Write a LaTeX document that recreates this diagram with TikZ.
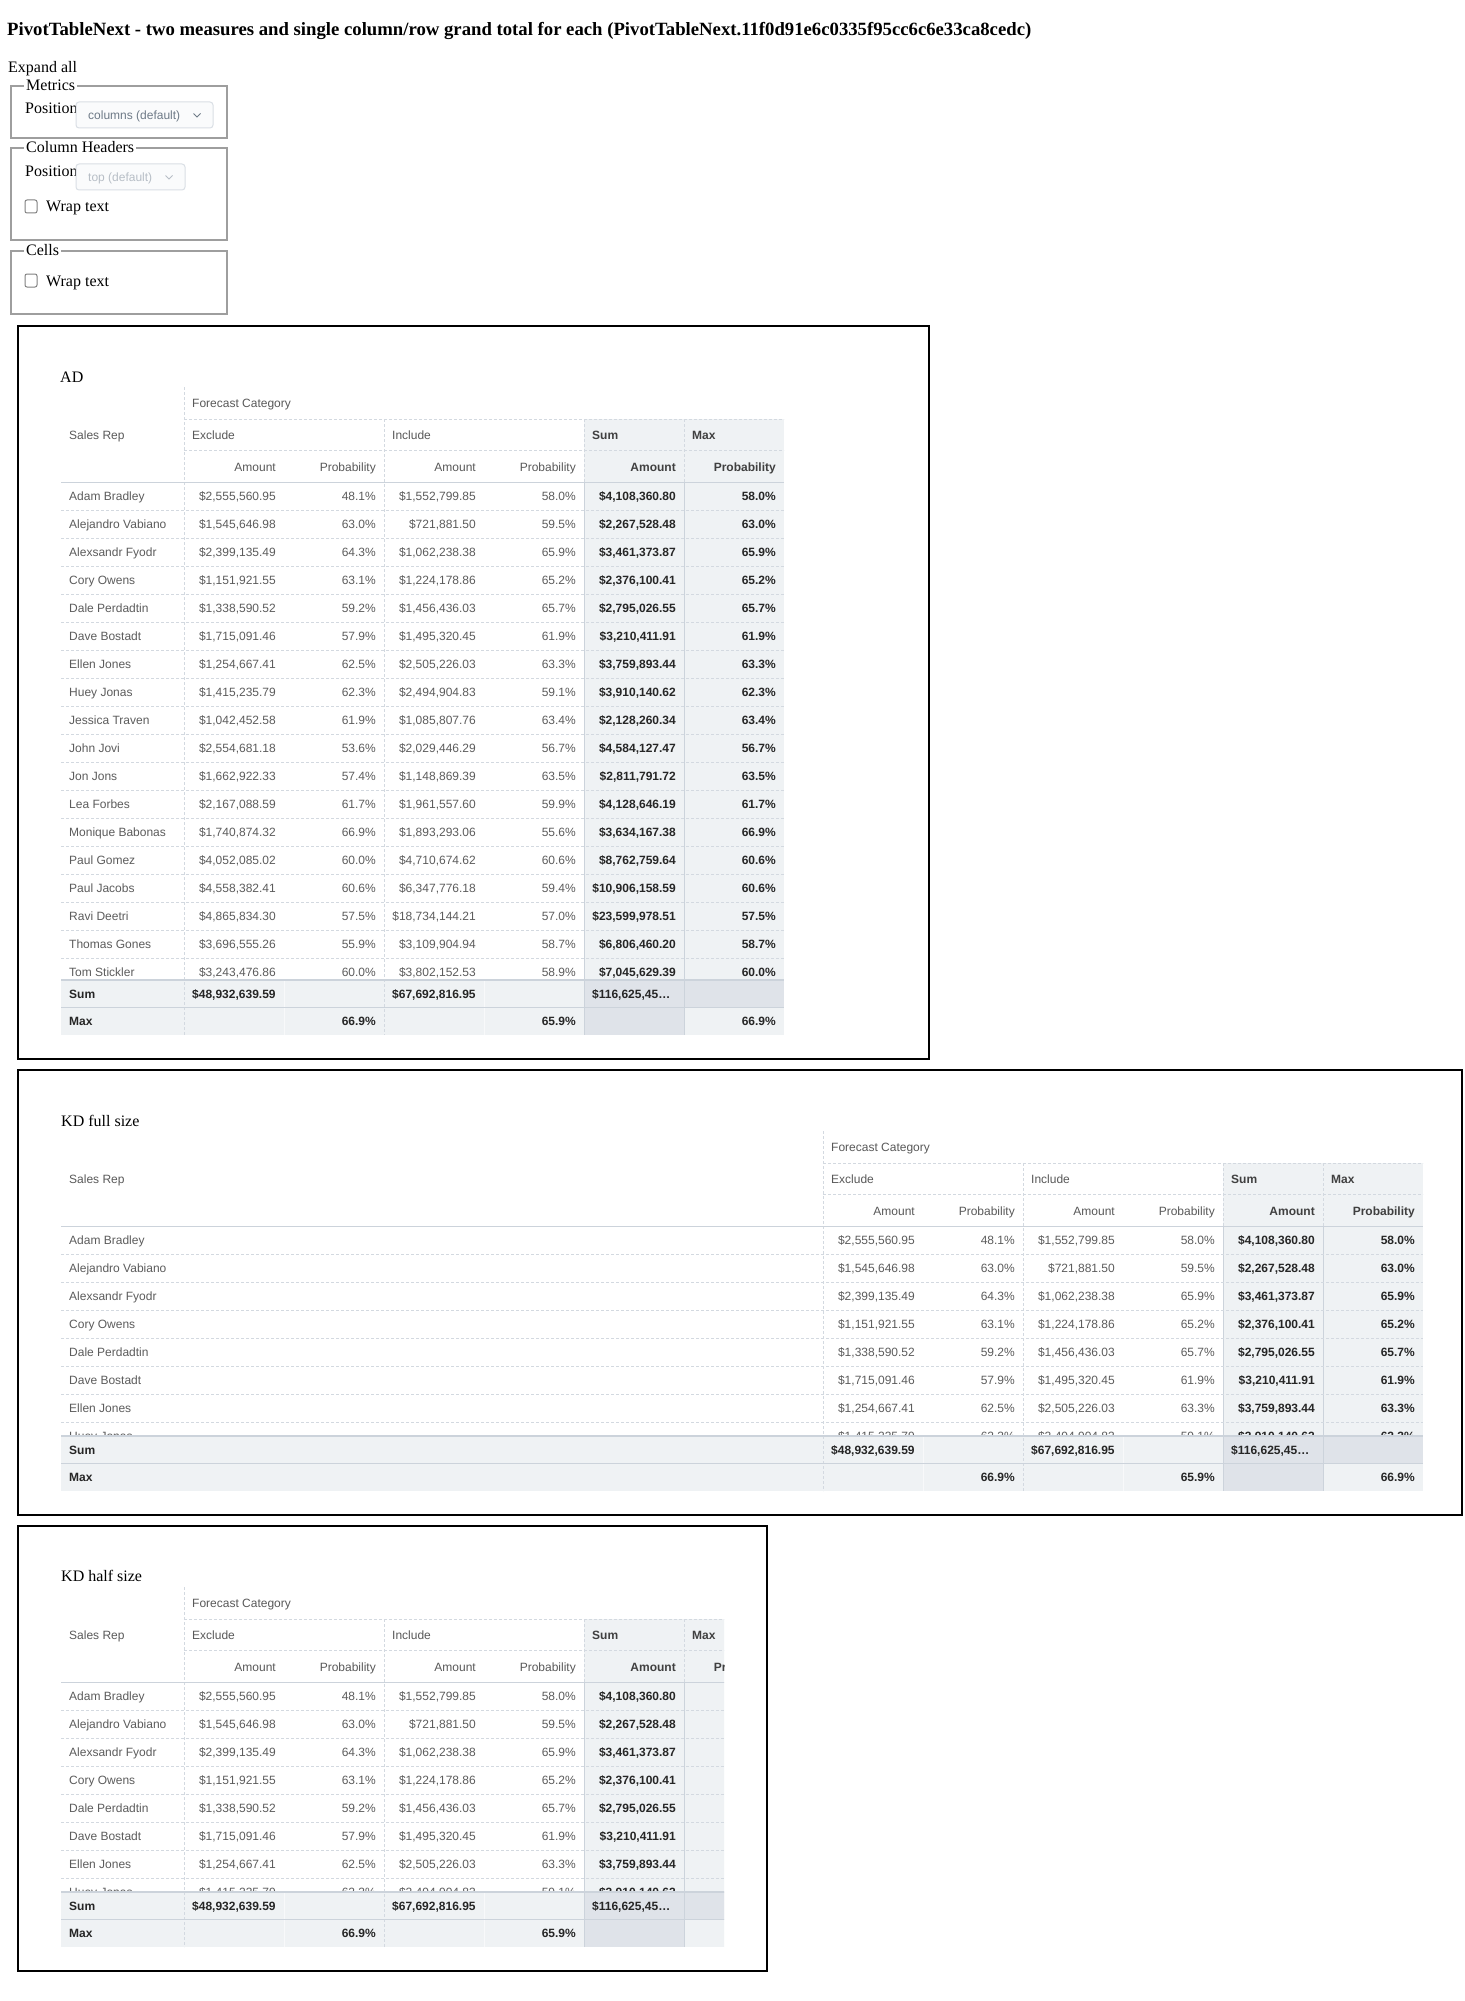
\documentclass[tikz,border=0pt]{standalone}
\usepackage{fontspec}
\setmainfont{Liberation Serif}
\newfontfamily\tsans{Liberation Sans}
\definecolor{bgl}{HTML}{EFF2F4}
\definecolor{bgd}{HTML}{DFE3E9}
\definecolor{lnd}{HTML}{D3D9E0}
\definecolor{lns}{HTML}{CCD3DB}
\definecolor{txr}{HTML}{5C5C5C}
\definecolor{txb}{HTML}{262626}
\definecolor{txh}{HTML}{595959}
\definecolor{txhb}{HTML}{404040}
\definecolor{selt}{HTML}{6E7A87}
\definecolor{seld}{HTML}{B7BEC6}
\definecolor{selb}{HTML}{DADFE5}
\definecolor{self}{HTML}{FAFBFC}
\definecolor{fsl}{HTML}{9E9E9E}
\tikzset{
 dat/.style={inner sep=0pt, font=\tsans\fontsize{12}{14}\selectfont, text=txr},
 datb/.style={inner sep=0pt, font=\tsans\bfseries\fontsize{12}{14}\selectfont, text=txb},
 hdr/.style={inner sep=0pt, font=\tsans\fontsize{12}{14}\selectfont, text=txh},
 hdrb/.style={inner sep=0pt, font=\tsans\bfseries\fontsize{12}{14}\selectfont, text=txhb},
 ser/.style={inner sep=0pt, font=\fontsize{16}{19}\selectfont, text=black},
 dsh/.style={draw=lnd, line width=1pt, dash pattern=on 3pt off 2pt},
 sol/.style={draw=lns, line width=1.5pt},
 bigbox/.style={draw=black, line width=2.5pt},
 fset/.style={draw=fsl, line width=1.2pt},
 selbox/.style={draw=selb, fill=self, rounded corners=3pt, line width=1pt},
 chk/.style={draw=gray, rounded corners=2pt, line width=1pt},
 legendtxt/.style={inner xsep=2pt, inner ysep=0pt, fill=white, font=\fontsize{16}{19}\selectfont, anchor=base west},
}
% one data row: index, name, excl amount, excl prob, incl amount, incl prob, sum amount, max prob
\newcommand\PTdrow[8]{%
 \pgfmathsetmacro\ptRy{\ptHd+28*(#1-1)}%
 \pgfmathsetmacro\ptBy{\ptRy+18.3}%
 \pgfmathsetmacro\ptLy{\ptRy+28}%
 \draw[dsh] (61,\ptLy) -- (\ptR,\ptLy);
 \node[dat,anchor=base west] at (69,\ptBy) {#2};
 \node[dat,anchor=base east] at (\ptCa+92,\ptBy) {#3};
 \node[dat,anchor=base east] at (\ptCa+192,\ptBy) {#4};
 \node[dat,anchor=base east] at (\ptCb+92,\ptBy) {#5};
 \node[dat,anchor=base east] at (\ptCb+192,\ptBy) {#6};
 \node[datb,anchor=base east] at (\ptCc+92,\ptBy) {#7};
 \node[datb,anchor=base east] at (\ptCd+92,\ptBy) {#8};
}
\newcommand\PTrowsA{%
\PTdrow{1}{Adam Bradley}{\$2,555,560.95}{48.1\%}{\$1,552,799.85}{58.0\%}{\$4,108,360.80}{58.0\%}%
\PTdrow{2}{Alejandro Vabiano}{\$1,545,646.98}{63.0\%}{\$721,881.50}{59.5\%}{\$2,267,528.48}{63.0\%}%
\PTdrow{3}{Alexsandr Fyodr}{\$2,399,135.49}{64.3\%}{\$1,062,238.38}{65.9\%}{\$3,461,373.87}{65.9\%}%
\PTdrow{4}{Cory Owens}{\$1,151,921.55}{63.1\%}{\$1,224,178.86}{65.2\%}{\$2,376,100.41}{65.2\%}%
\PTdrow{5}{Dale Perdadtin}{\$1,338,590.52}{59.2\%}{\$1,456,436.03}{65.7\%}{\$2,795,026.55}{65.7\%}%
\PTdrow{6}{Dave Bostadt}{\$1,715,091.46}{57.9\%}{\$1,495,320.45}{61.9\%}{\$3,210,411.91}{61.9\%}%
\PTdrow{7}{Ellen Jones}{\$1,254,667.41}{62.5\%}{\$2,505,226.03}{63.3\%}{\$3,759,893.44}{63.3\%}%
\PTdrow{8}{Huey Jonas}{\$1,415,235.79}{62.3\%}{\$2,494,904.83}{59.1\%}{\$3,910,140.62}{62.3\%}%
}
\newcommand\PTrowsB{%
\PTdrow{9}{Jessica Traven}{\$1,042,452.58}{61.9\%}{\$1,085,807.76}{63.4\%}{\$2,128,260.34}{63.4\%}%
\PTdrow{10}{John Jovi}{\$2,554,681.18}{53.6\%}{\$2,029,446.29}{56.7\%}{\$4,584,127.47}{56.7\%}%
\PTdrow{11}{Jon Jons}{\$1,662,922.33}{57.4\%}{\$1,148,869.39}{63.5\%}{\$2,811,791.72}{63.5\%}%
\PTdrow{12}{Lea Forbes}{\$2,167,088.59}{61.7\%}{\$1,961,557.60}{59.9\%}{\$4,128,646.19}{61.7\%}%
\PTdrow{13}{Monique Babonas}{\$1,740,874.32}{66.9\%}{\$1,893,293.06}{55.6\%}{\$3,634,167.38}{66.9\%}%
\PTdrow{14}{Paul Gomez}{\$4,052,085.02}{60.0\%}{\$4,710,674.62}{60.6\%}{\$8,762,759.64}{60.6\%}%
\PTdrow{15}{Paul Jacobs}{\$4,558,382.41}{60.6\%}{\$6,347,776.18}{59.4\%}{\$10,906,158.59}{60.6\%}%
\PTdrow{16}{Ravi Deetri}{\$4,865,834.30}{57.5\%}{\$18,734,144.21}{57.0\%}{\$23,599,978.51}{57.5\%}%
\PTdrow{17}{Thomas Gones}{\$3,696,555.26}{55.9\%}{\$3,109,904.94}{58.7\%}{\$6,806,460.20}{58.7\%}%
\PTdrow{18}{Tom Stickler}{\$3,243,476.86}{60.0\%}{\$3,802,152.53}{58.9\%}{\$7,045,629.39}{60.0\%}%
}
% table: #1 top, #2 first column line, #3 totals top, #4 clip right, #5 rows
\newcommand\PTtable[5]{%
 \pgfmathsetmacro\ptTop{#1}%
 \pgfmathsetmacro\ptCa{#2}%
 \pgfmathsetmacro\ptCb{#2+200}%
 \pgfmathsetmacro\ptCc{#2+400}%
 \pgfmathsetmacro\ptCd{#2+500}%
 \pgfmathsetmacro\ptR{#2+600}%
 \pgfmathsetmacro\ptHb{#1+32}%
 \pgfmathsetmacro\ptHc{#1+63.5}%
 \pgfmathsetmacro\ptHd{#1+95.5}%
 \pgfmathsetmacro\ptTt{#3}%
 \pgfmathsetmacro\ptTm{#3+27.5}%
 \pgfmathsetmacro\ptTz{#3+55}%
 \begin{scope}
 \clip (55,\ptTop-2) rectangle (#4,\ptTz+2);
 % backgrounds
 \fill[bgl] (\ptCc,\ptHb) rectangle (\ptR,\ptTt);
 \fill[bgl] (61,\ptTt) rectangle (\ptR,\ptTz);
 \fill[bgd] (\ptCc,\ptTt) rectangle (\ptR,\ptTm);
 \fill[bgd] (\ptCc,\ptTm) rectangle (\ptCd,\ptTz);
 % header lines
 \draw[dsh] (\ptCa,\ptHb) -- (\ptR,\ptHb);
 \draw[dsh] (\ptCa,\ptHc) -- (\ptR,\ptHc);
 \draw[dsh] (\ptCa,\ptTop) -- (\ptCa,\ptTz);
 \draw[dsh] (\ptCb,\ptHb) -- (\ptCb,\ptTz);
 \draw[dsh] (\ptCc,\ptHb) -- (\ptCc,\ptHd);
 \draw[dsh] (\ptCd,\ptHb) -- (\ptCd,\ptHd);
 \draw[sol, line width=1pt] (\ptCc,\ptHd) -- (\ptCc,\ptTz);
 \draw[sol, line width=1pt] (\ptCd,\ptHd) -- (\ptCd,\ptTz);
 % header texts
 \node[hdr,anchor=base west] at (\ptCa+8,\ptTop+20.3) {Forecast Category};
 \node[hdr,anchor=base west] at (69,\ptTop+52.3) {Sales Rep};
 \node[hdr,anchor=base west] at (\ptCa+8,\ptTop+52.3) {Exclude};
 \node[hdr,anchor=base west] at (\ptCb+8,\ptTop+52.3) {Include};
 \node[hdrb,anchor=base west] at (\ptCc+8,\ptTop+52.3) {Sum};
 \node[hdrb,anchor=base west] at (\ptCd+8,\ptTop+52.3) {Max};
 \node[hdr,anchor=base east] at (\ptCa+92,\ptTop+84) {Amount};
 \node[hdr,anchor=base east] at (\ptCa+192,\ptTop+84) {Probability};
 \node[hdr,anchor=base east] at (\ptCb+92,\ptTop+84) {Amount};
 \node[hdr,anchor=base east] at (\ptCb+192,\ptTop+84) {Probability};
 \node[hdrb,anchor=base east] at (\ptCc+92,\ptTop+84) {Amount};
 \node[hdrb,anchor=base east] at (\ptCd+92,\ptTop+84) {Probability};
 % body rows
 \begin{scope}
 \clip (61,\ptHd) rectangle (\ptR,\ptTt);
 #5
 \end{scope}
 \draw[sol] (61,\ptHd) -- (\ptR,\ptHd);
 % totals
 \draw[white!55!bgl, line width=0.8pt] (\ptCa+100,\ptTt) -- (\ptCa+100,\ptTz);
 \draw[white!55!bgl, line width=0.8pt] (\ptCb+100,\ptTt) -- (\ptCb+100,\ptTz);
 \draw[sol] (61,\ptTt) -- (\ptR,\ptTt);
 \draw[sol, line width=1pt] (61,\ptTm) -- (\ptR,\ptTm);
 \node[datb,anchor=base west] at (69,\ptTt+18.3) {Sum};
 \node[datb,anchor=base west] at (\ptCa+8,\ptTt+18.3) {\$48,932,639.59};
 \node[datb,anchor=base west] at (\ptCb+8,\ptTt+18.3) {\$67,692,816.95};
 \node[datb,anchor=base west] at (\ptCc+8,\ptTt+18.3) {\$116,625,45…};
 \node[datb,anchor=base west] at (69,\ptTm+18) {Max};
 \node[datb,anchor=base east] at (\ptCa+192,\ptTm+18) {66.9\%};
 \node[datb,anchor=base east] at (\ptCb+192,\ptTm+18) {65.9\%};
 \node[datb,anchor=base east] at (\ptCd+92,\ptTm+18) {66.9\%};
 \end{scope}
}
\begin{document}
\begin{tikzpicture}[x=1pt,y=-1pt]
\useasboundingbox[fill=white] (0,0) rectangle (1464,2001);
% heading
\node[inner sep=0pt, anchor=base west] (title) at (7,36) {\resizebox{1024pt}{!}{\bfseries PivotTableNext - two measures and single column/row grand total for each (PivotTableNext.11f0d91e6c0335f95cc6c6e33ca8cedc)}};
\node[ser, anchor=base west] (expand) at (8,73) {Expand all};
% Metrics fieldset
\draw[fset] (11,86) rectangle (227,138);
\node[legendtxt] (lm) at (24,91) {Metrics};
\node[ser, anchor=base west] at (25,114) {Position};
\draw[selbox] (76,102) rectangle (213,128);
\node[dat, text=selt, anchor=base west] at (88,119.3) {columns (default)};
\draw[selt, line width=0.9pt] (193.5,113.5) -- (197,117) -- (200.5,113.5);
% Column headers fieldset
\draw[fset] (11,148) rectangle (227,240);
\node[legendtxt] (lc) at (24,153) {Column Headers};
\node[ser, anchor=base west] at (25,177) {Position};
\draw[selbox] (76,164) rectangle (185,190);
\node[dat, text=seld, anchor=base west] at (88,182) {top (default)};
\draw[seld, line width=0.9pt] (165.5,175.5) -- (169,179) -- (172.5,175.5);
\draw[chk] (25,200) rectangle (37,213);
\node[ser, anchor=base west] at (46,212) {Wrap text};
% Cells fieldset
\draw[fset] (11,251) rectangle (227,314);
\node[legendtxt] (lcl) at (24,256) {Cells};
\draw[chk] (25,274) rectangle (37,287);
\node[ser, anchor=base west] at (46,286) {Wrap text};
% panels
\draw[bigbox] (18,326) rectangle (929,1059);
\draw[bigbox] (18,1070) rectangle (1462,1515);
\draw[bigbox] (18,1526) rectangle (767,1971);
\node[ser, anchor=base west] (tAD) at (60,382) {AD};
\node[ser, anchor=base west] (tKF) at (61,1126) {KD full size};
\node[ser, anchor=base west] (tKH) at (61,1581) {KD half size};
% tables
\PTtable{387}{184}{980}{1500}{\PTrowsA\PTrowsB}
\PTtable{1131}{823}{1436}{1500}{\PTrowsA}
\PTtable{1587}{184}{1892}{724}{\PTrowsA}
\end{tikzpicture}
\end{document}
